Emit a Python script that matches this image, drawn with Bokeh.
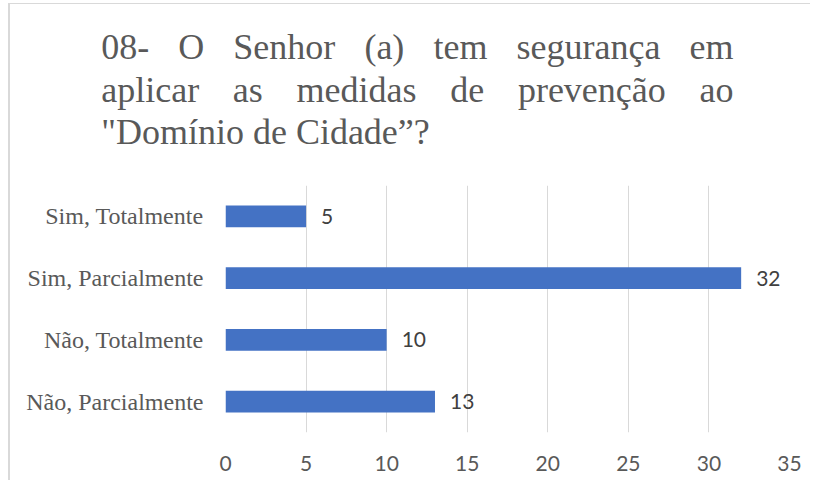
from bokeh.plotting import figure
from bokeh.layouts import column
from bokeh.models import FactorRange, Range1d, FixedTicker, ColumnDataSource
from bokeh.embed import file_html
from bokeh.resources import INLINE
from bokeh.core.properties import value

# ---- data ----
categories = ["Sim, Totalmente", "Sim, Parcialmente", "Não, Totalmente", "Não, Parcialmente"]
counts = [5, 32, 10, 13]
x_ticks = [0, 5, 10, 15, 20, 25, 30, 35]
title_lines = [
    ["08-", "O", "Senhor", "(a)", "tem", "segurança", "em"],
    ["aplicar", "as", "medidas", "de", "prevenção", "ao"],
    ['"Domínio de Cidade”?'],
]

# ---- layout constants ----
W = 800
TITLE_H = 181
CHART_H = 295
FRAME_L, FRAME_R = 215, 779
FRAME_B = 247
BAR = "#4472C4"
GRID = "#d9d9d9"
TXT = "#595959"

# Times New Roman advance widths (1/1000 em), used to justify the title lines
TNR = {'0': 500, '8': 500, '-': 333, 'O': 722, 'S': 556, 'e': 444, 'n': 500, 'h': 500,
       'o': 500, 'r': 333, '(': 333, ')': 333, 'a': 444, 't': 278, 'm': 778, 's': 389,
       'g': 500, 'u': 500, 'ç': 444, 'p': 500, 'l': 278, 'i': 278, 'c': 444, 'd': 500,
       'v': 500, 'ã': 444, ' ': 250, '"': 408, 'D': 722, 'í': 278, 'C': 667, '”': 444, '?': 444}
TSIZE = 36

def wwidth(w):
    return sum(TNR.get(ch, 500) for ch in w) * TSIZE / 1000.0

# ---- title figure (pixel-mapped canvas) ----
left, right = 90.7, 723.0
baselines = [42.0, 85.5, 127.0]
tw, tx, ty = [], [], []
for i, words in enumerate(title_lines):
    widths = [wwidth(w) for w in words]
    gap = (right - left - sum(widths)) / (len(words) - 1) if (len(words) > 1 and i < len(title_lines) - 1) else 0
    x = left
    for w, ww in zip(words, widths):
        tw.append(w); tx.append(x); ty.append(baselines[i])
        x += ww + gap

t = figure(width=W, height=TITLE_H, output_backend="svg", toolbar_location=None,
           x_range=Range1d(0, W), y_range=Range1d(TITLE_H, 0),
           x_axis_location=None, y_axis_location=None,
           min_border=0, min_border_left=0, min_border_right=0,
           min_border_top=0, min_border_bottom=0)
t.frame_align = False
t.outline_line_color = None
t.xgrid.visible = False
t.ygrid.visible = False
t.background_fill_color = "white"
t.border_fill_color = "white"
t.text(x=tx, y=ty, text=tw, text_font=value("Liberation Serif"), text_font_size=f"{TSIZE}px",
       text_color=TXT, text_baseline="alphabetic", text_align="left")

# ---- chart figure ----
source = ColumnDataSource(dict(cat=categories, val=counts, lbl=[str(v) for v in counts]))

p = figure(width=W, height=CHART_H, output_backend="svg", toolbar_location=None,
           y_range=FactorRange(factors=list(reversed(categories))),
           x_range=Range1d(0, 35),
           min_border_left=FRAME_L, min_border_right=W - FRAME_R,
           min_border_top=0, min_border_bottom=CHART_H - FRAME_B)
p.frame_align = False
p.outline_line_color = None
p.background_fill_color = "white"
p.border_fill_color = "white"

p.hbar(y="cat", right="val", left=0, height=0.355, source=source,
       fill_color=BAR, line_color=None)
p.text(x="val", y="cat", text="lbl", source=source, x_offset=15,
       text_align="left", text_baseline="middle", text_font=value("Lato"),
       text_font_size="21px", text_color="#404040")

p.xaxis.ticker = FixedTicker(ticks=x_ticks)
p.xaxis.axis_line_color = None
p.xaxis.major_tick_line_color = None
p.xaxis.minor_tick_line_color = None
p.xaxis.major_tick_out = 0
p.xaxis.major_label_standoff = 23
p.xaxis.major_label_text_font = "Lato"
p.xaxis.major_label_text_font_size = "21px"
p.xaxis.major_label_text_color = TXT

p.yaxis.axis_line_color = None
p.yaxis.major_tick_line_color = None
p.yaxis.minor_tick_line_color = None
p.yaxis.major_tick_out = 0
p.yaxis.major_label_standoff = 22
p.yaxis.major_label_text_font = "Liberation Serif"
p.yaxis.major_label_text_font_size = "24px"
p.yaxis.major_label_text_color = TXT

p.xgrid.grid_line_color = GRID
p.xgrid.grid_line_width = 1
p.ygrid.grid_line_color = None

layout = column(t, p, spacing=0)
layout.styles = {"margin-left": "8px", "margin-top": "3px",
                 "border-left": "2px solid #d9d9d9", "border-top": "1px solid #d9d9d9"}

open("out.html", "w").write(file_html(layout, INLINE))
